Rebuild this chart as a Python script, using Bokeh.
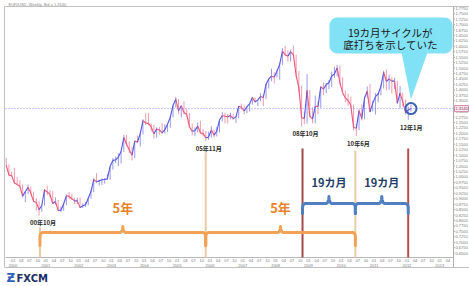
import numpy as np
import pandas as pd
from bokeh.plotting import figure
from bokeh.models import Span, Range1d
from bokeh.core.properties import value
from bokeh.embed import file_html
from bokeh.resources import INLINE

# ---------------- data (EUR/USD, monthly summary of the weekly chart) ----------------
months = [str(m) for m in pd.period_range("1999-10", "2012-02", freq="M")]
first_open = 1.0680
highs = [
    1.0882, 1.0580, 1.0240,
    1.0415, 0.9990, 0.9850, 0.9660, 0.9350, 0.9650, 0.9560, 0.9330, 0.9030, 0.8880, 0.8720, 0.9450,
    0.9590, 0.9400, 0.9350, 0.9060, 0.8950, 0.8640, 0.8800, 0.9200, 0.9310, 0.9230, 0.9050, 0.9040,
    0.9060, 0.8790, 0.8840, 0.9040, 0.9390, 0.9950, 1.0180, 0.9870, 0.9930, 0.9950, 1.0140, 1.0500,
    1.0870, 1.0940, 1.1080, 1.1190, 1.1930, 1.1930, 1.1630, 1.1380, 1.1670, 1.1900, 1.2010, 1.2650,
    1.2930, 1.2930, 1.2460, 1.2400, 1.2280, 1.2290, 1.2470, 1.2420, 1.2430, 1.2780, 1.3310, 1.3670,
    1.3580, 1.3290, 1.3480, 1.3120, 1.2940, 1.2460, 1.2270, 1.2500, 1.2580, 1.2200, 1.2110, 1.2080,
    1.2330, 1.2170, 1.2290, 1.2620, 1.2980, 1.2950, 1.2890, 1.2950, 1.2910, 1.2800, 1.3260, 1.3370,
    1.3280, 1.3250, 1.3400, 1.3680, 1.3650, 1.3530, 1.3850, 1.3800, 1.4280, 1.4530, 1.4970, 1.4800,
    1.4930, 1.5240, 1.5910, 1.6020, 1.5810, 1.5850, 1.6040, 1.5620, 1.4870, 1.4190, 1.3000, 1.4720,
    1.4000, 1.3200, 1.3740, 1.3470, 1.4170, 1.4340, 1.4310, 1.4450, 1.4840, 1.5060, 1.5140, 1.5120,
    1.4580, 1.3970, 1.3820, 1.3690, 1.3320, 1.2430, 1.3110, 1.3330, 1.3680, 1.4160, 1.4280, 1.3500,
    1.3850, 1.3860, 1.4250, 1.4880, 1.4940, 1.4700, 1.4580, 1.4550, 1.4420, 1.4170, 1.3880, 1.3550,
    1.3230, 1.3320,
]
lows = [
    1.0530, 1.0030, 1.0000,
    0.9700, 0.9640, 0.9520, 0.9050, 0.8840, 0.9220, 0.9190, 0.8850, 0.8460, 0.8230, 0.8400, 0.8680,
    0.9160, 0.9050, 0.8770, 0.8730, 0.8450, 0.8400, 0.8440, 0.8700, 0.8980, 0.8950, 0.8750, 0.8760,
    0.8580, 0.8570, 0.8620, 0.8700, 0.8990, 0.9300, 0.9720, 0.9600, 0.9630, 0.9690, 0.9860, 0.9870,
    1.0340, 1.0640, 1.0500, 1.0620, 1.1150, 1.1420, 1.1100, 1.0760, 1.0860, 1.1550, 1.1400, 1.1950,
    1.2400, 1.2370, 1.2090, 1.1760, 1.1800, 1.1950, 1.1990, 1.2000, 1.2060, 1.2260, 1.2740, 1.3180,
    1.2880, 1.2730, 1.2870, 1.2760, 1.2290, 1.1910, 1.1870, 1.2050, 1.1980, 1.1870, 1.1640, 1.1700,
    1.1810, 1.1820, 1.1860, 1.2040, 1.2550, 1.2460, 1.2450, 1.2660, 1.2630, 1.2480, 1.2690, 1.3100,
    1.2870, 1.2930, 1.3000, 1.3320, 1.3410, 1.3260, 1.3470, 1.3260, 1.3580, 1.4060, 1.4400, 1.4300,
    1.4580, 1.4470, 1.5150, 1.5550, 1.5290, 1.5300, 1.5550, 1.4580, 1.3900, 1.2330, 1.2420, 1.2450,
    1.2750, 1.2460, 1.2460, 1.2880, 1.3180, 1.3750, 1.3850, 1.4040, 1.4120, 1.4560, 1.4620, 1.4220,
    1.3860, 1.3440, 1.3270, 1.3170, 1.2140, 1.1880, 1.2150, 1.2590, 1.2650, 1.3630, 1.2970, 1.3010,
    1.2870, 1.3430, 1.3750, 1.4060, 1.3970, 1.4000, 1.3840, 1.4050, 1.3360, 1.3150, 1.3250, 1.2860,
    1.2620, 1.3000,
]
closes = [
    1.0540, 1.0080, 1.0070,
    0.9720, 0.9650, 0.9570, 0.9120, 0.9330, 0.9520, 0.9260, 0.8880, 0.8830, 0.8500, 0.8690, 0.9400,
    0.9310, 0.9200, 0.8780, 0.8870, 0.8460, 0.8470, 0.8770, 0.9130, 0.9110, 0.9000, 0.8900, 0.8900,
    0.8590, 0.8680, 0.8720, 0.9020, 0.9330, 0.9880, 0.9780, 0.9820, 0.9870, 0.9880, 0.9920, 1.0490,
    1.0760, 1.0780, 1.0910, 1.1180, 1.1810, 1.1500, 1.1240, 1.1000, 1.1650, 1.1600, 1.1990, 1.2590,
    1.2480, 1.2460, 1.2300, 1.1980, 1.2200, 1.2160, 1.2030, 1.2170, 1.2430, 1.2750, 1.3290, 1.3570,
    1.3040, 1.3270, 1.2960, 1.2870, 1.2300, 1.2100, 1.2120, 1.2340, 1.2030, 1.1990, 1.1790, 1.1840,
    1.2160, 1.1920, 1.2110, 1.2620, 1.2820, 1.2790, 1.2760, 1.2820, 1.2680, 1.2760, 1.3250, 1.3200,
    1.3030, 1.3230, 1.3360, 1.3650, 1.3450, 1.3540, 1.3700, 1.3650, 1.4260, 1.4500, 1.4630, 1.4590,
    1.4860, 1.5180, 1.5780, 1.5610, 1.5550, 1.5750, 1.5610, 1.4670, 1.4090, 1.2720, 1.2690, 1.3970,
    1.2800, 1.2660, 1.3250, 1.3230, 1.4140, 1.4040, 1.4250, 1.4330, 1.4640, 1.4730, 1.5010, 1.4340,
    1.3870, 1.3630, 1.3510, 1.3290, 1.2270, 1.2240, 1.3040, 1.2680, 1.3630, 1.3940, 1.2990, 1.3380,
    1.3690, 1.3810, 1.4160, 1.4810, 1.4390, 1.4500, 1.4400, 1.4400, 1.3390, 1.3850, 1.3450, 1.2960,
    1.3080, 1.3140,
]

# cycle lows (decimal year of the bottom week) and their labels
low_labels = ["00年10月", "05年11月", "08年10月", "10年6月", "12年1月"]
low_dates = [2000.82, 2005.87, 2008.82, 2010.43, 2012.04]
low_prices = [0.8230, 1.1640, 1.2330, 1.1880, 1.2620]
vline_tops = [0.768, 1.112, 1.131, 1.121, 1.131]
vline_colors = ["#eccaa6", "#eccaa6", "#a24a4a", "#eccaa6", "#b24e4e"]
year_brace_label = "5年"
month_brace_label = "19カ月"
callout_lines = ["19カ月サイクルが", "底打ちを示していた"]
header_text = "EUR/USD, Weekly, Bid = 1.3140"
price_ticks = [round(0.65 + 0.025 * i, 4) for i in range(46)]
quarter_ticks = [y + q / 4 for y in range(2000, 2014) for q in range(4) if y + q / 4 <= 2013.25]
quarter_labels = ["01", "04", "07", "10"]
year_ticks = list(range(2000, 2014))

# ---------------- layout: the frame covers the whole canvas, plot area is inside ----------------
W, H = 469, 286
FL, FR, FT, FB = 5, 453, 6, 257          # plot area edges in pixels
X0, X1 = 1999.77, 2013.42                 # time span of the plot area
Y0, Y1 = 0.630, 1.783                     # price span of the plot area
SX = (FR - FL) / (X1 - X0)
SY = (FB - FT) / (Y1 - Y0)
def dx(n):
    return n / SX
def dy(n):
    return n / SY
def xpx(n):
    return X0 + (n - FL) / SX
def ypx(n):
    return Y1 - (n - FT) / SY

p = figure(width=W, height=H, x_range=Range1d(xpx(0), xpx(W)), y_range=Range1d(ypx(H), ypx(0)),
           output_backend="svg", toolbar_location=None,
           x_axis_location=None, y_axis_location=None,
           min_border=0, min_border_left=0, min_border_right=0, min_border_top=0, min_border_bottom=0)
p.grid.visible = False
p.outline_line_color = None
p.background_fill_color = "white"
p.border_fill_color = "white"

# panel frame and axis lines
GRAY = "#c2c2c2"
p.line([xpx(4), xpx(4), xpx(W), ], [ypx(267), ypx(6), ypx(6)], line_color=GRAY, line_width=1)
p.line([xpx(4), xpx(W)], [ypx(267), ypx(267)], line_color=GRAY, line_width=1)
p.line([X1, X1], [ypx(267), Y1], line_color="#b0b0b0", line_width=1)
p.line([X0, X1], [Y0, Y0], line_color="#b8b8b8", line_width=1)

# tick labels
AX_FONT = "4px"
AX_COL = "#7a7a7a"
p.text(x=[X1 + dx(2)] * len(price_ticks), y=price_ticks, text=[f"{v:.4f}" for v in price_ticks],
       text_font_size=AX_FONT, text_color=AX_COL, text_baseline="middle", text_align="left")
p.segment(x0=[X1] * len(price_ticks), y0=price_ticks, x1=[X1 + dx(1.5)] * len(price_ticks), y1=price_ticks,
          line_color="#b0b0b0", line_width=1)
p.text(x=quarter_ticks, y=[Y0 - dy(1.5)] * len(quarter_ticks),
       text=[quarter_labels[int(round((q % 1) * 4))] for q in quarter_ticks],
       text_font_size=AX_FONT, text_color=AX_COL, text_baseline="top", text_align="center")
p.text(x=year_ticks, y=[Y0 - dy(6.5)] * len(year_ticks), text=[str(v) for v in year_ticks],
       text_font_size=AX_FONT, text_color=AX_COL, text_baseline="top", text_align="center")

# ---------------- price series ----------------
t = [int(m[:4]) + (int(m[5:7]) - 0.5) / 12 for m in months]
opens = [first_open] + closes[:-1]
UP, DOWN = "#5555e0", "#ea5676"
bar_colors = [UP if c >= o else DOWN for o, c in zip(opens, closes)]
p.segment(x0=t, y0=lows, x1=t, y1=highs, line_color=bar_colors, line_width=1, line_alpha=0.6)
seg_colors = [UP if closes[i + 1] >= closes[i] else DOWN for i in range(len(closes) - 1)]
p.segment(x0=t[:-1], y0=closes[:-1], x1=t[1:], y1=closes[1:], line_color=seg_colors, line_width=1.1)

# current price dotted line and its highlighted axis label
p.segment(x0=[X0], y0=[closes[-1]], x1=[X1], y1=[closes[-1]], line_color="#8a8af0",
          line_dash="1 2", line_width=1)
p.quad(left=[X1 + dx(1)], right=[X1 + dx(15)], bottom=[closes[-1] - dy(3)], top=[closes[-1] + dy(3)],
       fill_color="#fbe6ee", line_color="#d88aa8", line_width=1)
p.text(x=[X1 + dx(2)], y=[closes[-1]], text=[f"{closes[-1]:.4f}"], text_font_size=AX_FONT,
       text_color="#704060", text_baseline="middle", text_align="left")

# vertical cycle markers
p.segment(x0=low_dates, y0=[Y0] * len(low_dates), x1=low_dates, y1=vline_tops,
          line_color=vline_colors, line_width=2)

# low labels
p.text(x=[d + dx(3) for d in low_dates], y=[v - dy(3) for v in low_prices], text=low_labels,
       text_font=value("Noto Sans CJK JP"), text_font_size="6px", text_font_style="bold",
       text_color="#2a2a2a", text_align="center", text_baseline="top")

# braces (opening downward, tip pointing up)
def brace(x0, x1, y, drop, tip, rx, ry):
    xm = (x0 + x1) / 2
    xs, ys = [x0], [y - drop]
    for a in np.linspace(np.pi, np.pi / 2, 8):
        xs.append(x0 + rx + rx * np.cos(a)); ys.append(y - ry + ry * np.sin(a))
    for a in np.linspace(-np.pi / 2, 0, 8):
        xs.append(xm - rx + rx * np.cos(a)); ys.append(y + tip + tip * np.sin(a))
    for a in np.linspace(np.pi, 1.5 * np.pi, 8):
        xs.append(xm + rx + rx * np.cos(a)); ys.append(y + tip + tip * np.sin(a))
    for a in np.linspace(np.pi / 2, 0, 8):
        xs.append(x1 - rx + rx * np.cos(a)); ys.append(y - ry + ry * np.sin(a))
    xs.append(x1); ys.append(y - drop)
    return xs, ys

ORANGE = "#f2a256"
for a_, b_ in [(low_dates[0], low_dates[1]), (low_dates[1], low_dates[3])]:
    bx, by = brace(a_, b_, ypx(232), dy(13), dy(6), dx(3), dy(4))
    p.line(bx, by, line_color=ORANGE, line_width=3, line_join="round", line_cap="round")
    p.text(x=[(a_ + b_) / 2], y=[ypx(207)], text=[year_brace_label], text_font=value("Noto Sans CJK JP"),
           text_font_size="13px", text_font_style="bold", text_color="#e8832c",
           text_align="center", text_baseline="middle")

BLUE = "#5080c0"
for a_, b_ in [(low_dates[2], low_dates[3]), (low_dates[3], low_dates[4])]:
    bx, by = brace(a_, b_, ypx(203), dy(10), dy(7), dx(3), dy(4))
    p.line(bx, by, line_color=BLUE, line_width=3, line_join="round", line_cap="round")
    p.text(x=[(a_ + b_) / 2], y=[ypx(181)], text=[month_brace_label], text_font=value("Noto Sans CJK JP"),
           text_font_size="11px", text_font_style="bold", text_color="#1f3d66",
           text_align="center", text_baseline="middle")

# circle on last price
p.scatter(x=[t[-1]], y=[closes[-1]], marker="circle", size=11, fill_color=None,
          line_color="#3a62b2", line_width=2)

# callout bubble
CYAN = "#80e2f4"
def rrect(l, r, tp, bt, rpx):
    rxd, ryd = dx(rpx), dy(rpx)
    xs, ys = [], []
    for cx, cy, a0 in [(r - rxd, tp - ryd, 0), (l + rxd, tp - ryd, 90), (l + rxd, bt + ryd, 180), (r - rxd, bt + ryd, 270)]:
        for a in np.radians(np.linspace(a0, a0 + 90, 8)):
            xs.append(cx + rxd * np.cos(a))
            ys.append(cy + ryd * np.sin(a))
    return xs, ys
bx, by = rrect(xpx(329), xpx(452), ypx(17), ypx(53), 8)
p.patch(bx, by, fill_color=CYAN, line_color=None)
p.patch([xpx(401), xpx(427), t[-1]], [ypx(52), ypx(52), closes[-1] + dy(9)], fill_color=CYAN, line_color=None)
p.text(x=[xpx(390), xpx(390)], y=[ypx(32), ypx(44)], text=callout_lines,
       text_font=value("Noto Sans CJK JP"), text_font_size="10.5px", text_color="#1a1a1a",
       text_align="center", text_baseline="middle")

# header & logo
p.text(x=[xpx(8)], y=[ypx(3.5)], text=[header_text], text_font_size="4px", text_color="#888888",
       text_baseline="middle", text_align="left")
p.text(x=[xpx(6)], y=[ypx(284)], text=["Ƶ"], text_font=value("DejaVu Sans"), text_font_size="12px",
       text_font_style="bold", text_color="#2f62b8", text_baseline="bottom", text_align="left")
p.text(x=[xpx(16)], y=[ypx(283)], text=["FXCM"], text_font=value("DejaVu Sans"), text_font_size="10px",
       text_font_style="bold", text_color="#1c2f6a", text_baseline="bottom", text_align="left")

open("out.html", "w").write(file_html(p, INLINE))
